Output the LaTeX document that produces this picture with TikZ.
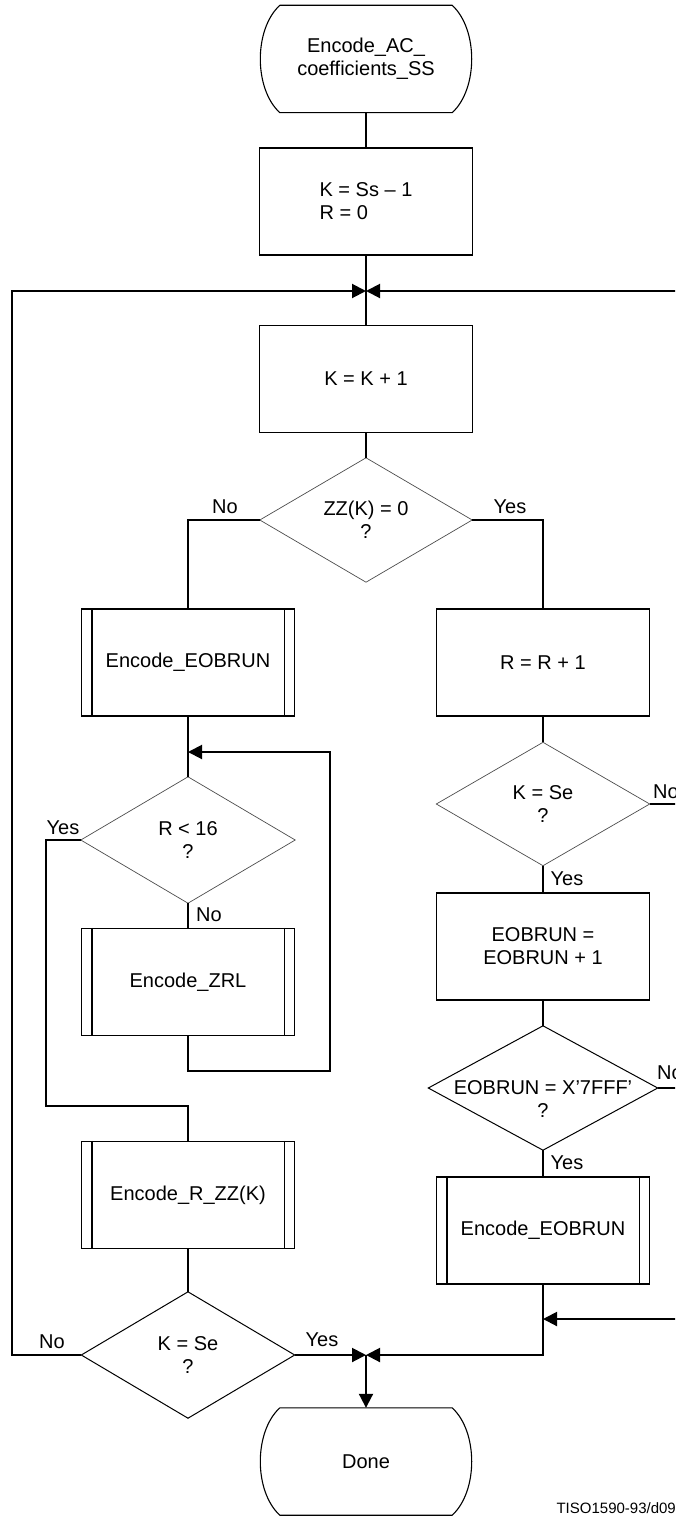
\documentclass[tikz,border=0pt]{standalone}
\usepackage{fontspec}
\setmainfont{Liberation Sans}
\usetikzlibrary{arrows.meta}
\newcommand\subrlines[1]{\draw[line width=1.1pt] ([xshift=11pt]#1.north west) -- ([xshift=11pt]#1.south west) ([xshift=-11pt]#1.north east) -- ([xshift=-11pt]#1.south east);}
\newcommand\termshape[1]{\draw[line width=1.1pt] ([xshift=20pt]#1.north west) -- ([xshift=-20pt]#1.north east) .. controls ([xshift=6pt,yshift=-24pt]#1.north east) and ([xshift=6pt,yshift=24pt]#1.south east) .. ([xshift=-20pt]#1.south east) -- ([xshift=20pt]#1.south west) .. controls ([xshift=-6pt,yshift=24pt]#1.south west) and ([xshift=-6pt,yshift=-24pt]#1.north west) .. ([xshift=20pt]#1.north west);}
\newcommand\decshape[2]{\draw[#2, line join=miter] (#1.north) -- (#1.east) -- (#1.south) -- (#1.west) -- cycle;}
\begin{document}
\begin{tikzpicture}[x=1pt,y=-1pt,
  every node/.style={font=\fontsize{20}{23}\selectfont},
  conn/.style={line width=2pt},
  arr/.style={line width=2pt, -{Triangle[length=14pt,width=14pt]}},
  box/.style={draw, line width=1.1pt, rectangle, minimum width=213pt, minimum height=107pt, inner sep=0pt, align=center},
  term/.style={rectangle, minimum width=212pt, minimum height=107pt, inner sep=0pt, align=center},
  dec/.style={rectangle, inner sep=0pt, align=center},
  lightdec/.style={line width=0.7pt, draw=black!70},
  darkdec/.style={line width=1pt, draw=black},
  lbl/.style={inner sep=0pt}]
\useasboundingbox (0,0) rectangle (675,1517);
\clip (0,0) rectangle (675,1517);
% centre column
\node[term] (start) at (366,59) {Encode\_AC\_\\coefficients\_SS};
\node[box, align=left] (init) at (366,201.5) {K = Ss – 1\\R = 0};
\coordinate (j1) at (366,291);
\node[box] (inc) at (366,379) {K = K + 1};
\node[dec, minimum width=212pt, minimum height=124pt] (zz) at (366,520) {ZZ(K) = 0\\?};
% left column
\node[box] (eobA) at (188,662.5) {Encode\_EOBRUN};
\coordinate (j2) at (188,752);
\node[dec, minimum width=214pt, minimum height=126pt] (r16) at (188,840) {R < 16\\?};
\node[box] (zrl) at (188,982) {Encode\_ZRL};
\coordinate (lb) at (188,1071);
\coordinate (lbr) at (330,1071);
\coordinate (ltr) at (330,752);
\coordinate (ya) at (46,840);
\coordinate (yb) at (46,1106);
\coordinate (yc) at (188,1106);
\node[box] (rzz) at (188,1195) {Encode\_R\_ZZ(K)};
\node[dec, minimum width=213pt, minimum height=126pt] (kse2) at (188,1355) {K = Se\\?};
\coordinate (la) at (12,1355);
\coordinate (lt) at (12,291);
\coordinate (rt) at (690,291);
\coordinate (j3) at (366,1355);
\node[term] (done) at (366,1461.5) {Done};
% right column
\node[box] (rr) at (543,662.5) {R = R + 1};
\node[dec, minimum width=213pt, minimum height=123pt] (kse1) at (543,804) {K = Se\\?};
\coordinate (n1) at (690,804);
\node[box] (einc) at (543,946.5) {EOBRUN =\\EOBRUN + 1};
\node[dec, minimum width=229pt, minimum height=124pt] (echk) at (543,1088) {};
\node[dec] (echktext) at (543,1099) {EOBRUN = X’7FFF’\\?};
\coordinate (n2) at (690,1088);
\node[box] (eobB) at (543,1230.5) {Encode\_EOBRUN};
\coordinate (n3) at (690,1319);
\coordinate (rc) at (543,1319);
\coordinate (rb) at (543,1355);
% shapes
\termshape{start}
\termshape{done}
\subrlines{eobA}
\subrlines{zrl}
\subrlines{rzz}
\subrlines{eobB}
\decshape{zz}{lightdec}
\decshape{r16}{lightdec}
\decshape{kse2}{darkdec}
\decshape{kse1}{lightdec}
\decshape{echk}{darkdec}
% connectors
\draw[conn] (start.south) -- (init.north);
\draw[conn] (init.south) -- (inc.north);
\draw[arr] (kse2.west) -- (la) -- (lt) -- (j1);
\draw[arr] (rt) -- (j1);
\draw[conn] (inc.south) -- (zz.north);
\draw[conn] (zz.west) -| (eobA.north);
\draw[conn] (zz.east) -| (rr.north);
\draw[conn] (eobA.south) -- (r16.north);
\draw[arr] (zrl.south) -- (lb) -- (lbr) -- (ltr) -- (j2);
\draw[conn] (r16.south) -- (zrl.north);
\draw[conn] (r16.west) -- (ya) -- (yb) -- (yc) -- (rzz.north);
\draw[conn] (rzz.south) -- (kse2.north);
\draw[arr] (kse2.east) -- (j3);
\draw[arr] (eobB.south) -- (rb) -- (j3);
\draw[arr] (j3) -- (done.north);
\draw[conn] (rr.south) -- (kse1.north);
\draw[conn] (kse1.south) -- (einc.north);
\draw[conn] (kse1.east) -- (n1);
\draw[conn] (einc.south) -- (echk.north);
\draw[conn] (echk.south) -- (eobB.north);
\draw[conn] (echk.east) -- (n2);
\draw[arr] (n3) -- (rc);
% labels
\node[lbl] (l1) at (225,507) {No};
\node[lbl] (l2) at (510,507) {Yes};
\node[lbl] (l3) at (63,828) {Yes};
\node[lbl] (l4) at (209,915) {No};
\node[lbl] (l5) at (567,879) {Yes};
\node[lbl, anchor=west] (l6) at (653,792) {No};
\node[lbl, anchor=west] (l7) at (657,1073) {No};
\node[lbl] (l8) at (567,1163) {Yes};
\node[lbl] (l9) at (52,1342) {No};
\node[lbl] (l10) at (322,1340) {Yes};
\node[lbl, anchor=east, font=\fontsize{15}{18}\selectfont] (tag) at (676,1508) {TISO1590-93/d09};
\end{tikzpicture}
\end{document}
